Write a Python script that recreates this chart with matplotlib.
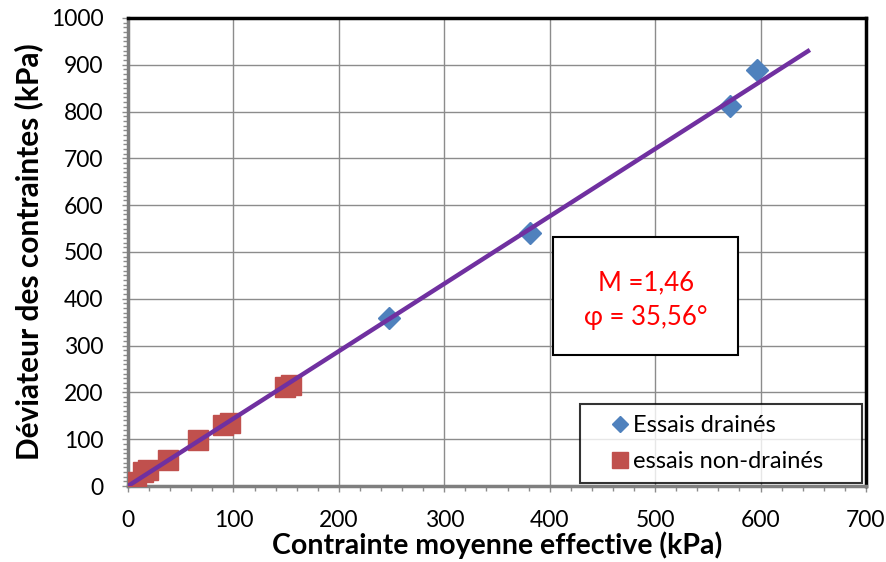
import matplotlib
matplotlib.use("Agg")
import matplotlib.pyplot as plt
from matplotlib.ticker import MultipleLocator
from matplotlib.patches import Rectangle

plt.rcParams['font.family'] = ['Lato', 'DejaVu Sans']

drained_p = [248, 381, 571, 597]
drained_q = [358, 541, 812, 888]
undrained_p = [8, 14, 19, 38, 66, 90, 97, 149, 155]
undrained_q = [8, 30, 34, 56, 98, 130, 134, 212, 216]
line_p = [0, 645]
line_q = [0, 929]

fig = plt.figure(figsize=(8.87, 5.62), dpi=100)
ax = fig.add_axes([0.1443, 0.1352, 0.832, 0.833])

ax.set_xlim(0, 700)
ax.set_ylim(0, 1000)
ax.xaxis.set_major_locator(MultipleLocator(100))
ax.xaxis.set_minor_locator(MultipleLocator(20))
ax.yaxis.set_major_locator(MultipleLocator(100))
ax.yaxis.set_minor_locator(MultipleLocator(10))
ax.grid(True, which='major', color='#8c8c8c', lw=1.0)
ax.set_axisbelow(True)

ax.plot(drained_p, drained_q, linestyle='none', marker='D', markersize=11.5,
        color='#4F81BD', label='Essais drainés', zorder=3)
ax.plot(undrained_p, undrained_q, linestyle='none', marker='s', markersize=14.5,
        color='#C0504D', label='essais non-drainés', zorder=3)
ax.plot(line_p, line_q, color='#7030A0', lw=3.2, zorder=4)

for s in ['top', 'right']:
    ax.spines[s].set_color('black')
    ax.spines[s].set_linewidth(2.5)
for s in ['left', 'bottom']:
    ax.spines[s].set_color('#7f7f7f')
    ax.spines[s].set_linewidth(2.5)

ax.tick_params(which='major', direction='out', length=4.5, width=1, color='#8c8c8c',
               labelsize=16.5)
ax.tick_params(axis='x', which='major', pad=13)
ax.tick_params(axis='y', which='major', pad=13)
ax.tick_params(which='minor', direction='out', length=3.5, width=1, color='#8c8c8c')

ax.set_xlabel('Contrainte moyenne effective (kPa)', fontsize=20.5, fontweight='bold', labelpad=0)
ax.set_ylabel('Déviateur des contraintes (kPa)', fontsize=21.5, fontweight='bold', labelpad=6)

# annotation box
box_x0, box_x1 = 403, 579
box_y0, box_y1 = 280, 532
ax.add_patch(Rectangle((box_x0, box_y0), box_x1 - box_x0, box_y1 - box_y0,
                       fc='white', ec='black', lw=1.5, zorder=6))
ax.text((box_x0 + box_x1) / 2, 397, 'M =1,46\nφ = 35,56°', ha='center', va='center',
        fontsize=18.5, color='red', linespacing=1.5, zorder=7)

leg = ax.legend(loc='lower left', bbox_to_anchor=(0.6125, 0.0064, 0.382, 0.17),
                mode='expand', fontsize=17,
                frameon=True, fancybox=False, edgecolor='black', handletextpad=-0.7,
                borderpad=0.45, labelspacing=0.65, handlelength=2.5, borderaxespad=0.0,
                markerscale=0.75)
leg.get_frame().set_linewidth(1.5)
leg.set_zorder(6)

fig.savefig('out.png', dpi=100)
